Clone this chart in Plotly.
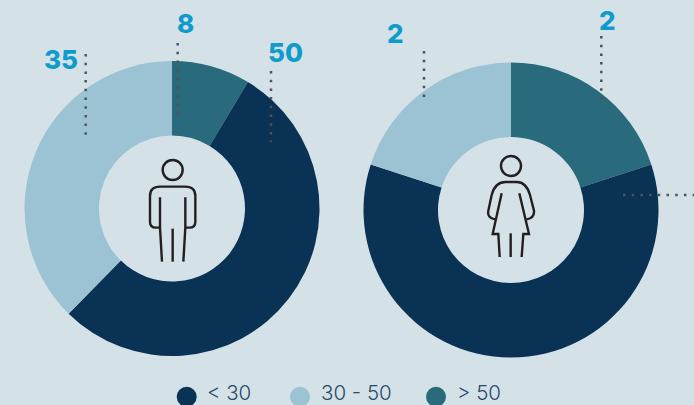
import plotly.graph_objects as go

W, H = 694, 405
categories = ["< 30", "30 - 50", "> 50"]
men_values = [50, 35, 8]
women_values = [6, 2, 2]
colors = {"< 30": "#0a3254", "30 - 50": "#9bc3d3", "> 50": "#296b7c"}
BG = "#d4e2e8"
BLUE = "#0f9bcb"
INK = "#231f20"
FONT = "Inter"

px = lambda x: x / W
py = lambda y: 1 - y / H

def donut(name, cats, vals, cx, cy, r=147.5):
    order = [2, 0, 1]  # clockwise from 12 o'clock: > 50, < 30, 30 - 50
    return go.Pie(
        name=name, labels=[cats[i] for i in order], values=[vals[i] for i in order],
        marker=dict(colors=[colors[cats[i]] for i in order], line=dict(width=0)),
        hole=73 / r, sort=False, direction="clockwise", rotation=0,
        textinfo="none", showlegend=False,
        domain=dict(x=[px(cx - r), px(cx + r)], y=[py(cy + r), py(cy - r)]),
    )

fig = go.Figure([
    donut("Men", categories, men_values, 172, 208.5),
    donut("Women", categories, women_values, 511, 210),
])

shapes = []
annotations = []

def dotted(x0, y0, x1, y1):
    shapes.append(dict(type="line", xref="paper", yref="paper",
                       x0=px(x0), y0=py(y0), x1=px(x1), y1=py(y1),
                       line=dict(color="#4f5358", width=2.5, dash="2.5px,6.2px")))

def label(text, x, y):
    annotations.append(dict(text=text, x=px(x), y=py(y), xref="paper", yref="paper",
                            showarrow=False, xanchor="center", yanchor="middle",
                            font=dict(family=FONT, size=26, color=BLUE, weight=800)))

for seg in [(85.7, 54, 85.7, 135), (177.7, 43, 177.7, 115), (271, 71, 271, 142),
            (424, 51, 424, 99), (601.3, 36, 601.3, 100), (623, 195, 694, 195)]:
    dotted(*seg)

for t, x, y in [("35", 61, 59), ("8", 185, 23), ("50", 285, 52), ("2", 395, 33), ("2", 607, 21)]:
    label(t, x, y)

def icon(ox, oy, head, paths):
    def pt(x, y):
        return f"{px(ox + x / 3):.5f},{py(oy + y / 3):.5f}"
    cx, cy, r = head
    shapes.append(dict(type="circle", xref="paper", yref="paper",
                       x0=px(ox + (cx - r) / 3), x1=px(ox + (cx + r) / 3),
                       y0=py(oy + (cy + r) / 3), y1=py(oy + (cy - r) / 3),
                       line=dict(color=INK, width=2.4)))
    for p in paths:
        d = ""
        for cmd, *xy in p:
            d += cmd + " " + " ".join(pt(xy[i], xy[i + 1]) for i in range(0, len(xy), 2)) + " "
        shapes.append(dict(type="path", xref="paper", yref="paper", path=d.strip(),
                           line=dict(color=INK, width=2.4)))

icon(130, 140, (128, 90, 30), [
    [("M", 88, 263), ("L", 78, 263), ("Q", 60, 263, 60, 245), ("L", 60, 168), ("Q", 60, 140, 90, 140),
     ("L", 166, 140), ("Q", 196, 140, 196, 168), ("L", 196, 245), ("Q", 196, 263, 178, 263), ("L", 168, 263)],
    [("M", 90, 172), ("L", 90, 263), ("L", 96, 365)],
    [("M", 166, 172), ("L", 166, 263), ("L", 160, 365)],
    [("M", 128, 266), ("L", 128, 365)],
])
icon(465, 140, (138, 78, 30), [
    [("M", 90, 238), ("Q", 66, 234, 70, 212), ("L", 80, 165), ("Q", 90, 126, 122, 126), ("L", 155, 126),
     ("Q", 184, 126, 195, 165), ("L", 207, 212), ("Q", 209, 234, 185, 238)],
    [("M", 110, 160), ("L", 83, 282), ("L", 100, 282), ("L", 104, 351)],
    [("M", 163, 160), ("L", 192, 282), ("L", 175, 282), ("L", 170, 351)],
    [("M", 137, 280), ("L", 137, 351)],
])

for cat, cx, tx in zip(categories, [186.7, 300, 436], [206.5, 320.5, 456.5]):
    shapes.append(dict(type="circle", xref="paper", yref="paper", x0=px(cx - 10), x1=px(cx + 10),
                       y0=py(406.7), y1=py(386.7), fillcolor=colors[cat], line=dict(width=0)))
    annotations.append(dict(text=cat, x=px(tx), y=0, xref="paper", yref="paper",
                            showarrow=False, xanchor="left", yanchor="bottom",
                            borderpad=0, borderwidth=0,
                            font=dict(family=FONT, size=20.5, color="#2a4a68", weight=300)))

fig.update_layout(width=W, height=H, margin=dict(l=0, r=0, t=0, b=0),
                  paper_bgcolor=BG, plot_bgcolor=BG, shapes=shapes, annotations=annotations)
fig.write_html("out.html", config={"displayModeBar": False},
               post_script="document.body.style.margin='0';document.body.style.overflow='hidden';")
